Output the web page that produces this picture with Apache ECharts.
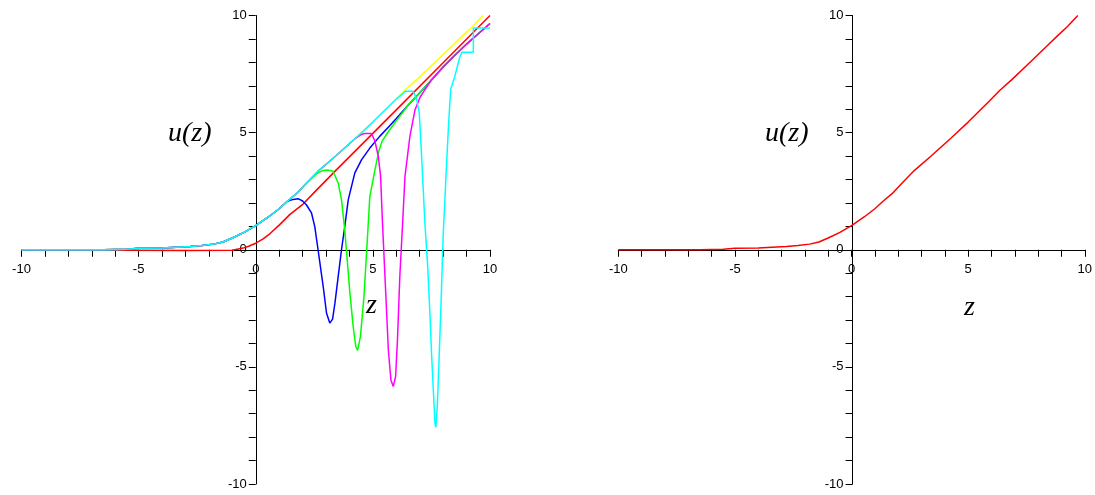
<!DOCTYPE html>
<html>
<head>
<meta charset="utf-8">
<script src="https://cdn.jsdelivr.net/npm/echarts@6/dist/echarts.min.js"></script>
<style>
  html, body { margin: 0; padding: 0; background: #fff; }
  #chart { width: 1095px; height: 495px; }
</style>
</head>
<body>
<div id="chart"></div>
<script>
// shared upper branch (also the single curve on the right)
var upper = [[-10, 0], [-6.5, 0], [-5.5, 0.02], [-5, 0.06], [-4, 0.08], [-3.4, 0.11], [-2.8, 0.14],
  [-2.3, 0.18], [-1.8, 0.24], [-1.4, 0.33], [-1, 0.5], [-0.5, 0.74], [0, 1.03], [0.57, 1.42],
  [1, 1.75], [1.35, 2.07], [1.8, 2.45], [2.14, 2.82], [2.7, 3.39], [3.4, 3.99], [4.27, 4.77],
  [5, 5.45], [5.9, 6.34], [6.35, 6.8], [6.85, 7.24], [7.7, 8.05], [8.4, 8.72], [8.85, 9.15],
  [9.25, 9.52], [9.7, 10]];

// lower branch the dipping curves settle onto
var lower = [[4.52, 3.85], [4.87, 4.34], [5.3, 4.85], [5.7, 5.27], [6, 5.6], [6.5, 6.17], [7, 6.7],
  [7.5, 7.25], [8, 7.8], [8.5, 8.3], [9, 8.78], [9.5, 9.22], [10, 9.66]];

var redLeft = [[-10, 0], [-3, -0.03], [-1, -0.02], [-0.54, 0.07], [-0.3, 0.15], [0, 0.28], [0.3, 0.45],
  [0.6, 0.68], [1, 1.05], [1.45, 1.5], [2.02, 1.95], [2.5, 2.45], [3.45, 3.42], [4.87, 4.84],
  [6, 5.97], [8, 7.98], [10, 10]];

var blueDip = [[1.6, 2.15], [1.81, 2.18], [2, 2.08], [2.16, 1.92], [2.38, 1.57], [2.52, 0.99], [2.66, 0],
  [2.88, -1.57], [3.02, -2.7], [3.16, -3.13], [3.28, -2.96], [3.38, -2.28], [3.52, -1.14], [3.66, 0],
  [3.8, 0.99], [3.95, 2.14], [4.23, 3.28]];

var greenDip = [[2.6, 3.25], [2.85, 3.38], [3.1, 3.4], [3.3, 3.35], [3.52, 2.85], [3.66, 2.14], [3.8, 0.85],
  [3.88, -0.14], [4.02, -1.85], [4.16, -3.28], [4.27, -4.13], [4.35, -4.3], [4.47, -3.7], [4.62, -1.99],
  [4.73, -0.14], [4.87, 2.28], [5.09, 3.42], [5.25, 4.2], [5.4, 4.65], [5.7, 5.1], [6, 5.5], [6.3, 5.9]];

var magentaDip = [[4.5, 4.92], [4.65, 4.96], [4.94, 4.96], [5.09, 4.63], [5.23, 3.99], [5.33, 3.13],
  [5.41, 1.14], [5.51, -1], [5.66, -4.27], [5.77, -5.56], [5.87, -5.84], [5.97, -5.41], [6.05, -3.85],
  [6.15, -1.14], [6.27, 1.14], [6.37, 3.13], [6.58, 4.84], [6.8, 5.98], [7.01, 6.5], [7.2, 6.8]];

var cyanDip = [[6.4, 6.77], [6.72, 6.77], [6.87, 6.41], [6.98, 5.84], [7.08, 4], [7.22, 1.14], [7.34, -0.71],
  [7.44, -2.85], [7.51, -4.56], [7.58, -5.98], [7.65, -7.41], [7.69, -7.58], [7.75, -6.7], [7.82, -4.84],
  [7.91, -2.28], [8, 0.57], [8.12, 3.13], [8.22, 5.13], [8.32, 6.84], [8.5, 7.41], [8.72, 8.26],
  [8.8, 8.43], [9.29, 8.43], [9.29, 9.47], [10, 9.47]];

function upTo(z) { return upper.filter(function (p) { return p[0] <= z; }); }
function lowerFrom(z) { return lower.filter(function (p) { return p[0] > z; }); }

var blue = upTo(1.35).concat(blueDip, lowerFrom(4.2));
var green = upTo(2.14).concat(greenDip, lowerFrom(6.3));
var magenta = upTo(4.27).concat(magentaDip, lowerFrom(7.2));
var cyan = upTo(5.9).concat(cyanDip);
var yellow = upper;

var font = '"Liberation Sans", Arial, sans-serif';
var half = 468.5 / 2;

// axes cross at the origin: shift them into the middle of the grid
function xAx(gi) {
  return {
    type: 'value', gridIndex: gi, min: -10, max: 10, interval: 1,
    position: 'bottom', offset: -half,
    axisLine: { onZero: false, lineStyle: { color: '#000', width: 1 } },
    axisTick: { length: 7, lineStyle: { color: '#000' } },
    axisLabel: {
      color: '#000', fontFamily: font, fontSize: 13, margin: 13,
      formatter: function (v) { return v % 5 === 0 ? String(v) : ''; }
    },
    splitLine: { show: false }
  };
}
function yAx(gi) {
  return {
    type: 'value', gridIndex: gi, min: -10, max: 10, interval: 1,
    position: 'left', offset: -half,
    axisLine: { onZero: false, lineStyle: { color: '#000', width: 1 } },
    axisTick: { length: 7, lineStyle: { color: '#000' } },
    axisLabel: {
      color: '#000', fontFamily: font, fontSize: 13, margin: 9,
      formatter: function (v) { return v % 5 === 0 ? String(v) : ''; }
    },
    splitLine: { show: false }
  };
}
function line(data, color, gi) {
  return {
    type: 'line', data: data, xAxisIndex: gi, yAxisIndex: gi,
    showSymbol: false, smooth: false,
    lineStyle: { color: color, width: 1.5 }, itemStyle: { color: color }
  };
}

var labelStyle = { fill: '#000', fontFamily: '"Liberation Serif", "Times New Roman", serif', fontStyle: 'italic', fontSize: 28 };

var myChart = echarts.init(document.getElementById('chart'));
myChart.setOption({
  animation: false,
  backgroundColor: '#fff',
  grid: [
    { left: 21.5, top: 15.5, width: 468.5, height: 468.5, containLabel: false },
    { left: 618.3, top: 15.5, width: 468.5, height: 468.5, containLabel: false }
  ],
  xAxis: [xAx(0), xAx(1)],
  yAxis: [yAx(0), yAx(1)],
  graphic: [
    { type: 'text', left: 168, top: 120, style: Object.assign({ text: 'u(z)' }, labelStyle) },
    { type: 'text', left: 366, top: 292, style: Object.assign({ text: 'z' }, labelStyle) },
    { type: 'text', left: 765, top: 120, style: Object.assign({ text: 'u(z)' }, labelStyle) },
    { type: 'text', left: 964, top: 294, style: Object.assign({ text: 'z' }, labelStyle) }
  ],
  series: [
    line(redLeft, '#ff0000', 0),
    line(yellow, '#ffff00', 0),
    line(blue, '#0000ff', 0),
    line(green, '#00ff00', 0),
    line(magenta, '#ff00ff', 0),
    line(cyan, '#00ffff', 0),
    line(upper, '#ff0000', 1)
  ]
});
</script>
</body>
</html>
